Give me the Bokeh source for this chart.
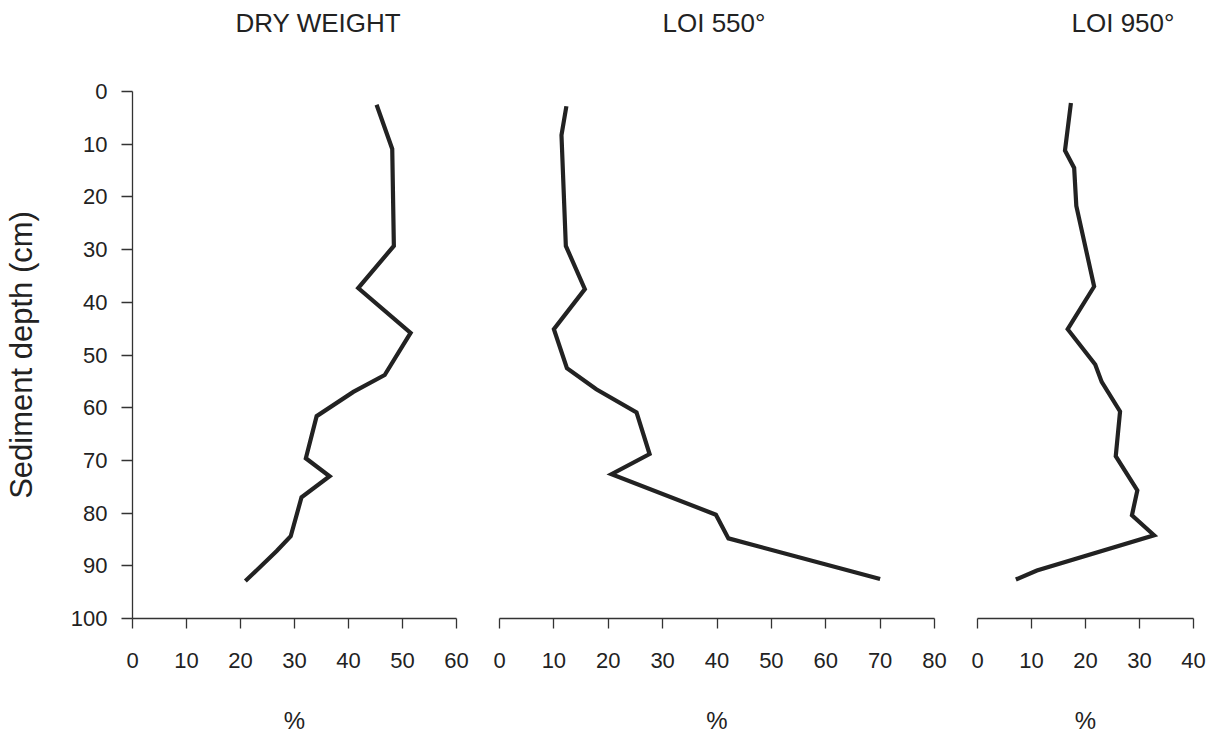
from bokeh.plotting import figure
from bokeh.layouts import row
from bokeh.models import Range1d, FixedTicker, Title
from bokeh.embed import file_html
from bokeh.resources import INLINE

# ---- data ----
panel_titles = ["DRY WEIGHT", "LOI 550°", "LOI 950°"]
y_label = "Sediment depth (cm)"
x_label = "%"
depth_ticks = [0, 10, 20, 30, 40, 50, 60, 70, 80, 90, 100]
dry_ticks = [0, 10, 20, 30, 40, 50, 60]
loi550_ticks = [0, 10, 20, 30, 40, 50, 60, 70, 80]
loi950_ticks = [0, 10, 20, 30, 40]

depth_dry = [2.5, 10.9, 29.3, 37.3, 45.8, 53.8, 57.0, 61.6, 69.6, 73.0, 77.0, 84.4, 87.2, 92.9]
dry_weight = [45.2, 48.1, 48.4, 41.8, 51.5, 46.7, 40.9, 34.1, 32.1, 36.5, 31.3, 29.3, 26.7, 20.9]

depth_550 = [2.8, 8.3, 29.3, 37.5, 45.1, 52.5, 56.5, 60.9, 68.8, 72.6, 80.3, 84.8, 92.5]
loi_550 = [12.3, 11.4, 12.2, 15.7, 10.0, 12.4, 17.8, 25.2, 27.6, 20.6, 39.8, 42.1, 70.0]

depth_950 = [2.2, 11.2, 14.5, 21.7, 37.0, 45.1, 51.8, 55.1, 60.7, 69.2, 75.7, 80.4, 84.2, 90.9, 92.6]
loi_950 = [17.3, 16.2, 17.9, 18.3, 21.6, 16.7, 21.8, 23.0, 26.4, 25.6, 29.6, 28.6, 32.7, 11.0, 7.1]

FONT = "Liberation Sans"
INK = "#222222"
AXIS = "#333333"
FRAME_H = 528
TOP = 91
BOTTOM = 117


def make_panel(title, title_dx, xs, ys, ticks, frame_w, left, right, show_y):
    width = left + frame_w + right
    p = figure(width=width, height=TOP + FRAME_H + BOTTOM,
               x_range=Range1d(ticks[0], ticks[-1]),
               y_range=Range1d(depth_ticks[-1], depth_ticks[0]),
               output_backend="svg", toolbar_location=None,
               y_axis_location="left" if show_y else None,
               min_border_left=left, min_border_right=right,
               min_border_top=TOP, min_border_bottom=BOTTOM)
    p.outline_line_color = None
    p.grid.visible = False
    p.background_fill_color = "white"
    p.border_fill_color = "white"

    # blank spacer next to the frame, then the panel heading above it
    p.add_layout(Title(text=" ", standoff=37, text_font=FONT, text_font_size="10px"), "above")
    p.add_layout(Title(text=title, align="left", offset=title_dx,
                       vertical_align="top", standoff=4,
                       text_font=FONT, text_font_size="26px",
                       text_font_style="normal", text_color=INK), "above")

    xa = p.below[0]
    xa.ticker = FixedTicker(ticks=ticks)
    xa.major_tick_out = 10
    xa.major_tick_in = 0
    xa.minor_tick_line_color = None
    xa.axis_line_color = AXIS
    xa.major_tick_line_color = AXIS
    xa.axis_line_width = 1.3
    xa.major_tick_line_width = 1.3
    xa.major_label_text_font = FONT
    xa.major_label_text_font_size = "22px"
    xa.major_label_text_color = INK
    xa.major_label_standoff = 24
    xa.axis_label = x_label
    xa.axis_label_text_font = FONT
    xa.axis_label_text_font_size = "24px"
    xa.axis_label_text_font_style = "normal"
    xa.axis_label_text_color = INK
    xa.axis_label_standoff = 36

    if show_y:
        ya = p.left[0]
        ya.ticker = FixedTicker(ticks=depth_ticks)
        ya.major_tick_out = 11
        ya.major_tick_in = 0
        ya.minor_tick_line_color = None
        ya.axis_line_color = AXIS
        ya.major_tick_line_color = AXIS
        ya.axis_line_width = 1.3
        ya.major_tick_line_width = 1.3
        ya.major_label_text_font = FONT
        ya.major_label_text_font_size = "22px"
        ya.major_label_text_color = INK
        ya.major_label_standoff = 14
        ya.axis_label = y_label
        ya.axis_label_text_font = FONT
        ya.axis_label_text_font_size = "31px"
        ya.axis_label_text_font_style = "normal"
        ya.axis_label_text_color = INK
        ya.axis_label_standoff = 29

    p.line(xs, ys, line_color=INK, line_width=4.2, line_join="miter")
    return p


p1 = make_panel(panel_titles[0], 103, dry_weight, depth_dry, dry_ticks, 324, 132, 20, True)
p2 = make_panel(panel_titles[1], 163, loi_550, depth_550, loi550_ticks, 435, 23, 20, False)
p3 = make_panel(panel_titles[2], 94, loi_950, depth_950, loi950_ticks, 216, 23, 17, False)

layout = row(p1, p2, p3, spacing=0)
open("out.html", "w").write(file_html(layout, INLINE))
